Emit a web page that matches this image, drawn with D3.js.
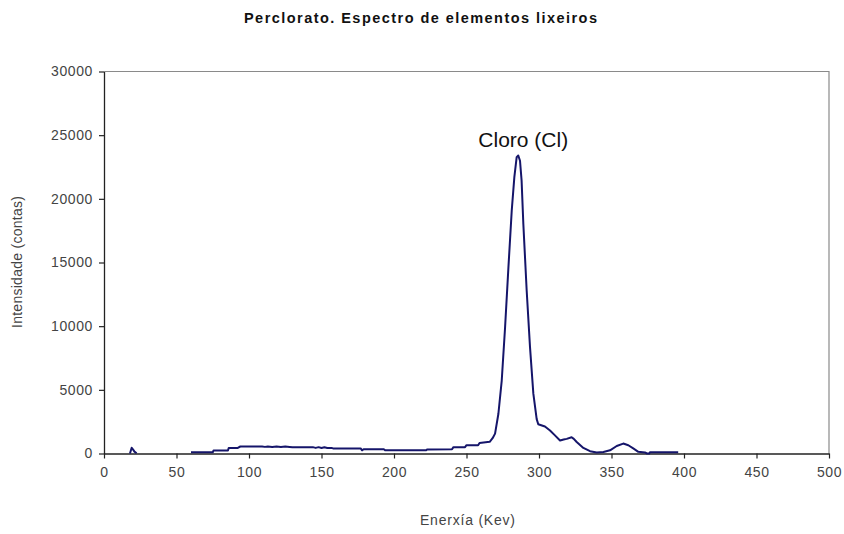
<!DOCTYPE html>
<html>
<head>
<meta charset="utf-8">
<script src="https://cdn.jsdelivr.net/npm/d3@7"></script>
<style>
  html, body { margin: 0; padding: 0; background: #fff; }
  svg { display: block; font-family: Arial, "Liberation Sans", sans-serif; }
</style>
</head>
<body>
<svg id="chart" width="844" height="534"></svg>
<script>
// Spectrum samples: energy (keV) and counts; null splits the trace into separate runs
const energy = [
  17.9, 19.1, 20.2, 21.0, 22.5,
  null,
  60, 75, 75.5, 85.5, 86, 92, 94, 109, 111, 113, 116, 119, 122, 125, 128, 130,
  144, 146, 148, 150, 152, 154, 157, 158, 177, 178, 179, 193, 194, 222, 223,
  240, 241, 249, 250, 258, 259, 266, 268, 269.7, 272, 274.3, 276.6, 278.9,
  281.2, 283, 284.6, 285.7, 286.9, 288, 289.2, 291.5, 293.8, 296.1, 298.4,
  299.5, 302, 304.1, 307.6, 311, 314.5, 317, 319.1, 322.5, 324, 326, 330.6,
  335.2, 339.8, 344.4, 349, 353.6, 358.1, 361.6, 365, 368.5, 373.1, 374.5,
  376, 376.5, 396
];
const counts = [
  0, 450, 280, 150, 20,
  null,
  100, 100, 230, 230, 430, 430, 550, 550, 520, 550, 520, 550, 520, 550, 520, 500,
  500, 440, 500, 430, 490, 430, 430, 400, 400, 250, 330, 330, 250, 250, 320,
  330, 500, 500, 650, 650, 830, 920, 1200, 1560, 3120, 5730, 9900, 14600,
  19080, 21700, 23270, 23400, 22990, 21430, 18030, 12800, 8350, 4700, 2700,
  2300, 2200, 2120, 1810, 1420, 1020, 1100, 1150, 1280, 1150, 900, 440,
  180, 80, 120, 250, 590, 780, 650, 400, 130, 80, 0,
  0, 100, 100
];

const xTicks = [0, 50, 100, 150, 200, 250, 300, 350, 400, 450, 500];
const yTicks = [0, 5000, 10000, 15000, 20000, 25000, 30000];

const titleText = "Perclorato. Espectro de elementos lixeiros";
const xTitle = "Enerxía (Kev)";
const yTitle = "Intensidade (contas)";
const peakLabel = "Cloro (Cl)";
const peakEnergy = 285.7;
const peakCounts = 23400;

const svg = d3.select("#chart");
const W = 844, H = 534;
const plot = { left: 104, right: 829, top: 71.5, bottom: 453.5 };

const x = d3.scaleLinear().domain([0, 500]).range([plot.left, plot.right]);
const y = d3.scaleLinear().domain([0, 30000]).range([plot.bottom, plot.top]);

svg.append("rect").attr("width", W).attr("height", H).attr("fill", "#fff");

// Plot-area frame (top and right edges)
svg.append("path")
  .attr("d", `M${plot.left},${plot.top}H${plot.right}V${plot.bottom}`)
  .attr("fill", "none").attr("stroke", "#8a8a8a").attr("stroke-width", 1.2);

// Axes
const xAxis = svg.append("g")
  .attr("transform", `translate(0,${plot.bottom})`)
  .call(d3.axisBottom(x).tickValues(xTicks).tickSize(5).tickSizeOuter(0).tickPadding(6));
const yAxis = svg.append("g")
  .attr("transform", `translate(${plot.left},0)`)
  .call(d3.axisLeft(y).tickValues(yTicks).tickSize(5).tickSizeOuter(0).tickPadding(6)
    .tickFormat(d3.format("d")));

[xAxis, yAxis].forEach(g => {
  g.select(".domain").attr("stroke", "#222").attr("stroke-width", 1.3);
  g.selectAll(".tick line").attr("stroke", "#222").attr("stroke-width", 1.2);
  g.selectAll(".tick text")
    .attr("fill", "#444")
    .style("font-size", "14px")
    .style("letter-spacing", "0.6px")
    .style("font-family", "Arial, 'Liberation Sans', sans-serif");
});
xAxis.selectAll(".tick text").attr("dy", "0.9em");

// Spectrum trace
const pts = energy.map((e, i) => [e, counts[i]]);
const line = d3.line()
  .defined(d => d[0] !== null && d[1] !== null)
  .x(d => x(d[0]))
  .y(d => y(d[1]))
  .curve(d3.curveLinear);

svg.append("path")
  .datum(pts)
  .attr("d", line)
  .attr("fill", "none")
  .attr("stroke", "#15156a")
  .attr("stroke-width", 2)
  .attr("stroke-linejoin", "round");

// Peak annotation
svg.append("text")
  .attr("x", x(peakEnergy) + 5)
  .attr("y", y(peakCounts) - 9)
  .attr("text-anchor", "middle")
  .attr("fill", "#111")
  .style("font-size", "21px")
  .text(peakLabel);

// Title and axis titles
svg.append("text")
  .attr("x", 244).attr("y", 23)
  .attr("textLength", 353).attr("lengthAdjust", "spacing")
  .attr("fill", "#111")
  .style("font-size", "14.5px").style("font-weight", "bold")
  .text(titleText);

svg.append("text")
  .attr("x", 420).attr("y", 525)
  .attr("textLength", 95).attr("lengthAdjust", "spacing")
  .attr("fill", "#444")
  .style("font-size", "14px")
  .text(xTitle);

svg.append("text")
  .attr("transform", "translate(22,328) rotate(-90)")
  .attr("textLength", 132).attr("lengthAdjust", "spacing")
  .attr("fill", "#444")
  .style("font-size", "14px")
  .text(yTitle);
</script>
</body>
</html>
